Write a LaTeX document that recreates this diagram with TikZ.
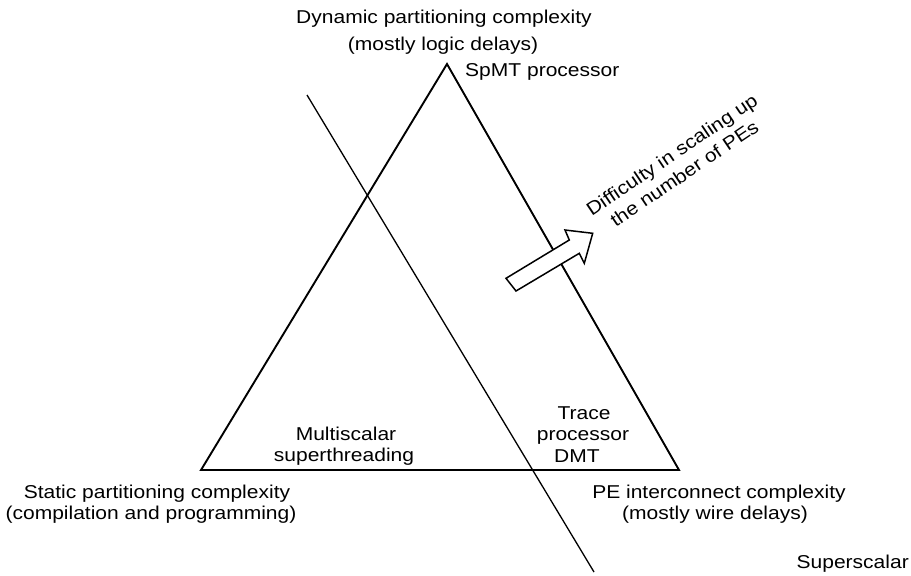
\documentclass[tikz,border=0pt]{standalone}
\usepackage{fontspec}
\setmainfont{Liberation Sans}[FakeStretch=1.13]
\begin{document}
\begin{tikzpicture}[x=1pt,y=-1pt,
  lbl/.style={inner sep=0pt, anchor=base, font=\fontsize{18.6}{21.5}\selectfont},
  edge/.style={line width=1.9pt, line join=miter},
  cut/.style={line width=1.3pt},
  fatarrow/.style={line width=1.5pt, fill=white, line join=miter}]
\useasboundingbox (0,0) rectangle (911,576);

% the complexity triangle
\coordinate (top) at (447,64);
\coordinate (left) at (201,470);
\coordinate (right) at (679,470);
\draw[edge] (top) -- (left) -- (right) -- cycle;

% dividing line
\coordinate (cutA) at (307,95);
\coordinate (cutB) at (594,572);
\draw[cut] (cutA) -- (cutB);

% block arrow pointing outwards
\draw[fatarrow] (506,278.3) -- (569.3,240) -- (565,230) -- (592.7,233.3)
  -- (584.3,263.3) -- (579.3,253.3) -- (516,291) -- cycle;

% corner labels
\node[lbl] (dyn1) at (444,23) {Dynamic partitioning complexity};
\node[lbl] (dyn2) at (443,50) {(mostly logic delays)};
\node[lbl, anchor=base west] (spmt) at (465,76) {SpMT processor};
\node[lbl] (st1) at (157,498) {Static partitioning complexity};
\node[lbl] (st2) at (151,519) {(compilation and programming)};
\node[lbl] (pe1) at (719,498) {PE interconnect complexity};
\node[lbl] (pe2) at (715,519) {(mostly wire delays)};
\node[lbl, anchor=base east] (ss) at (909,568) {Superscalar};

% labels inside the triangle
\node[lbl] (ms1) at (346,440) {Multiscalar};
\node[lbl] (ms2) at (344,461) {superthreading};
\node[lbl] (tr1) at (584,419) {Trace};
\node[lbl] (tr2) at (583,440) {processor};
\node[lbl] (tr3) at (577,462) {DMT};

% rotated caption of the arrow
\node[lbl, anchor=center, align=center, rotate=34,
      font=\fontsize{18.6}{22.5}\selectfont] (diff) at (678,164)
  {Difficulty in scaling up\\the number of PEs};
\end{tikzpicture}
\end{document}
